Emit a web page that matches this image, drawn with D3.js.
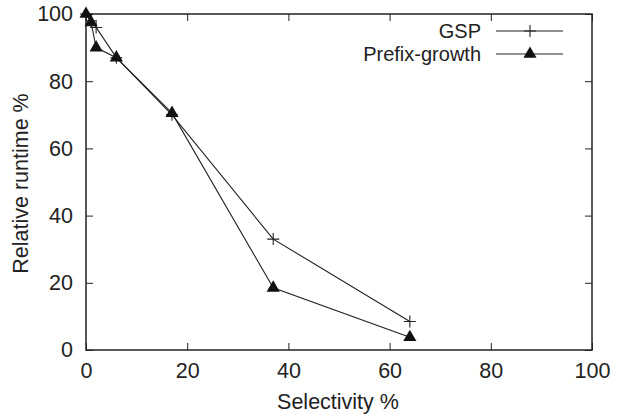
<!DOCTYPE html>
<html><head><meta charset="utf-8">
<script src="https://cdn.jsdelivr.net/npm/d3@7"></script>
<style>body{margin:0;background:#fff}svg{display:block}text{font-family:"Liberation Sans",Arial,sans-serif;fill:#222}</style>
</head><body><svg id="c" width="617" height="415"></svg>
<script>
const selectivity = [0, 1, 2, 6, 17, 37, 64];
const gsp = [100, 98, 96, 87, 70, 33, 8.5];
const prefixGrowth = [100, 97.5, 90, 87, 70.5, 18.5, 3.8];
const xTicks = [0, 20, 40, 60, 80, 100];
const yTicks = [0, 20, 40, 60, 80, 100];
const seriesNames = ["GSP", "Prefix-growth"];

const svg = d3.select("#c");
const L = 86, R = 592, T = 14, B = 350;
const x = d3.scaleLinear().domain([0, 100]).range([L, R]);
const y = d3.scaleLinear().domain([0, 100]).range([B, T]);
const fs = 21.5;

svg.append("rect").attr("x", L).attr("y", T).attr("width", R - L).attr("height", B - T)
  .attr("fill", "none").attr("stroke", "#222").attr("stroke-width", 1.5);

const ax = svg.append("g").attr("transform", `translate(0,${B})`)
  .call(d3.axisBottom(x).tickValues(xTicks).tickSize(-7).tickPadding(13));
const ay = svg.append("g").attr("transform", `translate(${L},0)`)
  .call(d3.axisLeft(y).tickValues(yTicks).tickSize(-7).tickPadding(13));
const axt = svg.append("g").attr("transform", `translate(0,${T})`)
  .call(d3.axisTop(x).tickValues(xTicks).tickSize(-7).tickFormat(""));
const ayr = svg.append("g").attr("transform", `translate(${R},0)`)
  .call(d3.axisRight(y).tickValues(yTicks).tickSize(-7).tickFormat(""));
[ax, ay, axt, ayr].forEach(g => {
  g.select(".domain").remove();
  g.selectAll(".tick line").attr("stroke", "#222");
  g.selectAll("text").attr("font-size", fs).attr("font-family", '"Liberation Sans",Arial,sans-serif').attr("fill", "#222");
});

svg.append("text").attr("x", (L + R) / 2 - 1).attr("y", 409).attr("text-anchor", "middle")
  .attr("font-size", fs).text("Selectivity %");
svg.append("text").attr("transform", `translate(27.5,183.5) rotate(-90)`).attr("text-anchor", "middle")
  .attr("font-size", fs).text("Relative runtime %");

const line = d3.line().x(d => x(d[0])).y(d => y(d[1]));
const gspData = selectivity.map((s, i) => [s, gsp[i]]);
const pgData = selectivity.map((s, i) => [s, prefixGrowth[i]]);

const cross = (g, cx, cy) => {
  g.append("path").attr("d", `M${cx - 6},${cy}H${cx + 6}M${cx},${cy - 6}V${cy + 6}`)
    .attr("stroke", "#222").attr("stroke-width", 1.1).attr("fill", "none");
};
const tri = (g, cx, cy) => {
  g.append("path").attr("d", d3.symbol(d3.symbolTriangle, 75)())
    .attr("transform", `translate(${cx},${cy})`).attr("fill", "#111");
};

const g1 = svg.append("g");
g1.append("path").datum(gspData).attr("d", line).attr("fill", "none").attr("stroke", "#222").attr("stroke-width", 1.1);
gspData.forEach(d => cross(g1, x(d[0]), y(d[1])));

const g2 = svg.append("g");
g2.append("path").datum(pgData).attr("d", line).attr("fill", "none").attr("stroke", "#222").attr("stroke-width", 1.1);
pgData.forEach(d => tri(g2, x(d[0]), y(d[1])));

// legend
const leg = svg.append("g");
seriesNames.forEach((n, i) => {
  const ly = 31 + i * 23;
  leg.append("text").attr("x", 481).attr("y", ly).attr("dy", "0.35em").attr("text-anchor", "end")
    .attr("font-size", 20).text(n);
  leg.append("line").attr("x1", 496).attr("x2", 563).attr("y1", ly).attr("y2", ly)
    .attr("stroke", "#222").attr("stroke-width", 1.1);
  if (i === 0) cross(leg, 530, ly); else tri(leg, 530, ly);
});
</script></body></html>
